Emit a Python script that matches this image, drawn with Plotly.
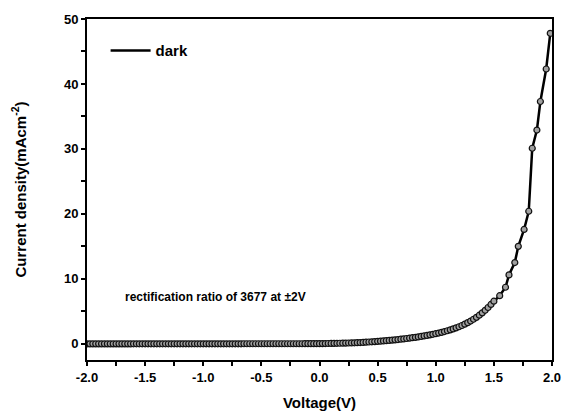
import plotly.graph_objects as go

# Voltage (V)
voltage = [
    -2.000, -1.975, -1.950, -1.925, -1.900, -1.875, -1.850, -1.825, -1.800, -1.775,
    -1.750, -1.725, -1.700, -1.675, -1.650, -1.625, -1.600, -1.575, -1.550, -1.525,
    -1.500, -1.475, -1.450, -1.425, -1.400, -1.375, -1.350, -1.325, -1.300, -1.275,
    -1.250, -1.225, -1.200, -1.175, -1.150, -1.125, -1.100, -1.075, -1.050, -1.025,
    -1.000, -0.975, -0.950, -0.925, -0.900, -0.875, -0.850, -0.825, -0.800, -0.775,
    -0.750, -0.725, -0.700, -0.675, -0.650, -0.625, -0.600, -0.575, -0.550, -0.525,
    -0.500, -0.475, -0.450, -0.425, -0.400, -0.375, -0.350, -0.325, -0.300, -0.275,
    -0.250, -0.225, -0.200, -0.175, -0.150, -0.125, -0.100, -0.075, -0.050, -0.025,
    0.000, 0.025, 0.050, 0.075, 0.100, 0.125, 0.150, 0.175, 0.200, 0.225,
    0.250, 0.275, 0.300, 0.325, 0.350, 0.375, 0.400, 0.425, 0.450, 0.475,
    0.500, 0.525, 0.550, 0.575, 0.600, 0.625, 0.650, 0.675, 0.700, 0.725,
    0.750, 0.775, 0.800, 0.825, 0.850, 0.875, 0.900, 0.925, 0.950, 0.975,
    1.000, 1.025, 1.050, 1.075, 1.100, 1.125, 1.150, 1.175, 1.200, 1.225,
    1.250, 1.275, 1.300, 1.325, 1.350, 1.375, 1.400, 1.425, 1.450, 1.475,
    1.500, 1.550, 1.600, 1.630, 1.680, 1.710, 1.760, 1.800, 1.830, 1.870,
    1.900, 1.950, 1.985,
]

# Current density (mA cm^-2), dark
current_density = [
    -0.013, -0.013, -0.013, -0.012, -0.012, -0.012, -0.012, -0.011, -0.011, -0.011,
    -0.011, -0.010, -0.010, -0.010, -0.010, -0.010, -0.009, -0.009, -0.009, -0.009,
    -0.009, -0.008, -0.008, -0.008, -0.008, -0.008, -0.007, -0.007, -0.007, -0.007,
    -0.007, -0.006, -0.006, -0.006, -0.006, -0.006, -0.005, -0.005, -0.005, -0.005,
    -0.005, -0.005, -0.004, -0.004, -0.004, -0.004, -0.004, -0.004, -0.003, -0.003,
    -0.003, -0.003, -0.003, -0.003, -0.002, -0.002, -0.002, -0.002, -0.002, -0.002,
    -0.002, -0.001, -0.001, -0.001, -0.001, -0.001, -0.001, 0.000, 0.000, 0.000,
    0.000, 0.001, 0.002, 0.003, 0.004, 0.006, 0.008, 0.010, 0.013, 0.016,
    0.020, 0.025, 0.030, 0.040, 0.050, 0.060, 0.070, 0.080, 0.090, 0.100,
    0.120, 0.130, 0.150, 0.170, 0.190, 0.210, 0.240, 0.270, 0.300, 0.330,
    0.370, 0.400, 0.440, 0.480, 0.520, 0.560, 0.600, 0.650, 0.700, 0.750,
    0.810, 0.870, 0.930, 0.990, 1.060, 1.130, 1.200, 1.280, 1.370, 1.460,
    1.550, 1.650, 1.760, 1.880, 2.000, 2.140, 2.290, 2.450, 2.620, 2.810,
    3.020, 3.250, 3.500, 3.770, 4.070, 4.400, 4.760, 5.150, 5.580, 6.050,
    6.550, 7.400, 8.700, 10.60, 12.50, 15.00, 17.60, 20.40, 30.10, 32.90,
    37.30, 42.30, 47.80,
]

# tick positions (major labelled, in-between unlabelled)
x_ticks = [-2.0, -1.75, -1.5, -1.25, -1.0, -0.75, -0.5, -0.25, 0.0,
           0.25, 0.5, 0.75, 1.0, 1.25, 1.5, 1.75, 2.0]
x_tick_labels = ["-2.0", "", "-1.5", "", "-1.0", "", "-0.5", "", "0.0",
                 "", "0.5", "", "1.0", "", "1.5", "", "2.0"]
y_ticks = [0, 5, 10, 15, 20, 25, 30, 35, 40, 45, 50]
y_tick_labels = ["0", "", "10", "", "20", "", "30", "", "40", "", "50"]

fig = go.Figure()

# line (also provides the legend entry, line only)
fig.add_trace(go.Scatter(
    x=voltage, y=current_density,
    mode="lines",
    line=dict(color="black", width=2.5),
    name="<b>dark</b>",
    showlegend=True,
))

# ball markers on the same data
fig.add_trace(go.Scatter(
    x=voltage, y=current_density,
    mode="markers",
    marker=dict(size=6, color="#a0a0a0",
                line=dict(color="#111111", width=1.2)),
    showlegend=False,
))

font_family = "Liberation Sans"

fig.update_layout(
    width=566, height=420,
    margin=dict(l=87, r=14, t=19, b=60, autoexpand=False),
    paper_bgcolor="white", plot_bgcolor="white",
    font=dict(family=font_family, color="black", size=12),
    legend=dict(x=0.04, y=0.955, xanchor="left", yanchor="top",
                bgcolor="rgba(0,0,0,0)", itemwidth=40,
                font=dict(size=15, family=font_family)),
    annotations=[dict(
        x=-1.69, y=7.2, xref="x", yref="y",
        text="<b>rectification ratio of 3677 at ±2V</b>",
        showarrow=False, xanchor="left", yanchor="middle",
        font=dict(size=12, family=font_family, color="black"),
    )],
)

fig.update_xaxes(
    anchor="y", domain=[0, 1],
    range=[-2.0, 2.0],
    tickvals=x_ticks, ticktext=x_tick_labels,
    ticks="outside", ticklen=4, tickwidth=2, tickcolor="black",
    showline=True, linecolor="black", linewidth=2, mirror=True,
    showgrid=False, zeroline=False,
    tickfont=dict(size=13, family=font_family, weight="bold"),
    title=dict(text="<b>Voltage(V)</b>", font=dict(size=15, family=font_family), standoff=14),
)

fig.update_yaxes(
    anchor="x", domain=[0, 1],
    range=[-2.5, 50],
    tickvals=y_ticks, ticktext=y_tick_labels,
    ticks="outside", ticklen=4, tickwidth=2, tickcolor="black",
    showline=True, linecolor="black", linewidth=2, mirror=True,
    showgrid=False, zeroline=False,
    tickfont=dict(size=13, family=font_family, weight="bold"),
    title=dict(text="<b>Current density(mAcm<sup>-2</sup>)</b>", font=dict(size=15, family=font_family), standoff=34),
)

fig.write_html("out.html", config={"displayModeBar": False},
               post_script="document.body.style.margin='0px';")
